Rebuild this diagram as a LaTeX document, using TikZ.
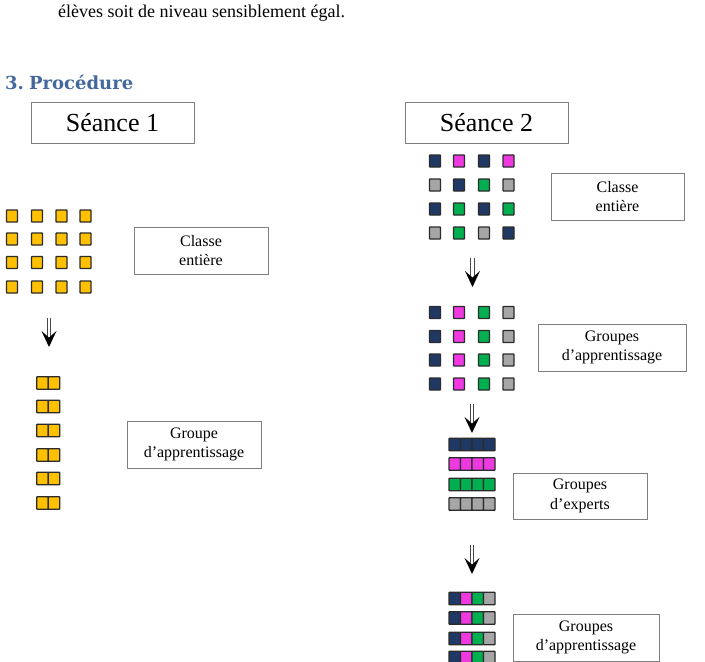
\documentclass[tikz,border=0pt]{standalone}
\usepackage{fontspec}
\setmainfont{LiberationSerif}[Extension=.ttf, UprightFont=*-Regular, BoldFont=*-Bold, ItalicFont=*-Italic, BoldItalicFont=*-BoldItalic]
\newfontfamily\headfont{DejaVu Serif}[WordSpace=0.5]
\usetikzlibrary{calc}
\definecolor{cyel}{HTML}{FFC000}
\definecolor{cnav}{HTML}{1F3864}
\definecolor{cmag}{HTML}{EE38E0}
\definecolor{cgrn}{HTML}{00B050}
\definecolor{cgry}{HTML}{A6A6A6}
\definecolor{chead}{HTML}{44689E}
\definecolor{cedge}{HTML}{2B2B2B}
\definecolor{cbox}{HTML}{7F7F7F}
\tikzset{
  x=1pt, y=-1pt,
  sqr/.style={draw=cedge, line width=1.3pt, rounded corners=0.6pt},
  lbl/.style={draw=cbox, line width=0.9pt, minimum width=134pt, minimum height=47pt,
    inner sep=0pt, align=center, font=\fontsize{16}{19.5}\selectfont},
  seance/.style={draw=cbox, line width=0.9pt, minimum width=163pt, minimum height=41pt,
    inner sep=0pt, font=\fontsize{26}{30}\selectfont},
  pics/dnarrow/.style={code={
    \draw[draw=gray!55!black, line width=0.9pt] (-1.7,0) -- (-1.7,19) (1.7,0) -- (1.7,19);
    \fill[black] (0,29) -- (-7.5,13) -- (0,19.5) -- (7.5,13) -- cycle;
  }}
}
\newcommand{\sq}[3]{\fill[#3,sqr] ({#1-5.5},{#2-6}) rectangle ({#1+5.5},{#2+6});}
\newcommand{\cell}[3]{\fill[#3,sqr] ({#1-5.75},{#2-6.25}) rectangle ({#1+5.75},{#2+6.25});}
\begin{document}
\begin{tikzpicture}
\useasboundingbox (0,0) rectangle (705,662);
% header text
\node[anchor=base west, inner sep=0pt, font=\fontsize{18}{21}\selectfont] (body) at (58,17)
  {élèves soit de niveau sensiblement égal.};
\node[anchor=base west, inner sep=0pt, font=\headfont\bfseries\fontsize{18}{21}\selectfont, text=chead] (head) at (5,89)
  {3. Procédure};
% seance boxes
\node[seance] (s1) at (112.5,122.5) {Séance 1};
\node[seance] (s2) at (486.5,122.5) {Séance 2};
% labels
\node[lbl] (l1) at (201,250.5) {Classe\\entière};
\node[lbl] (l2) at (194,444.5) {Groupe\\d’apprentissage};
\node[lbl, minimum width=133pt] (r1) at (617.5,196.5) {Classe\\entière};
\node[lbl, minimum width=148pt] (r2) at (612,347.5) {Groupes\\d’apprentissage};
\node[lbl, minimum height=46pt] (r3) at (580,496) {Groupes\\d’experts};
\node[lbl, minimum width=146pt] (r4) at (586,637.5) {Groupes\\d’apprentissage};
% Seance 1: 4x4 yellow grid
\foreach \x in {12,37,61.5,85.5}
  \foreach \y in {216,239,262.5,287}
    {\sq{\x}{\y}{cyel}}
% arrow 1
\pic at (49,318) {dnarrow};
% pairs
\foreach \y in {383,406.5,430.5,455,478.5,503}
  {\cell{42.5}{\y}{cyel}\cell{54}{\y}{cyel}}
% Seance 2 grid 1
\foreach \c [count=\i] in {cnav,cmag,cnav,cmag}
  {\pgfmathsetmacro{\xx}{{435,459,484,508.5}[\i-1]}\sq{\xx}{161}{\c}}
\foreach \c [count=\i] in {cgry,cnav,cgrn,cgry}
  {\pgfmathsetmacro{\xx}{{435,459,484,508.5}[\i-1]}\sq{\xx}{185}{\c}}
\foreach \c [count=\i] in {cnav,cgrn,cnav,cgrn}
  {\pgfmathsetmacro{\xx}{{435,459,484,508.5}[\i-1]}\sq{\xx}{209}{\c}}
\foreach \c [count=\i] in {cgry,cgrn,cgry,cnav}
  {\pgfmathsetmacro{\xx}{{435,459,484,508.5}[\i-1]}\sq{\xx}{233}{\c}}
% arrow 2
\pic at (472.5,258) {dnarrow};
% grid 2
\foreach \y in {312.5,336.5,360,384}
  {\sq{435}{\y}{cnav}\sq{459}{\y}{cmag}\sq{484}{\y}{cgrn}\sq{508.5}{\y}{cgry}}
% arrow 3
\pic at (472,404) {dnarrow};
% expert strips
\foreach \y/\c in {444.5/cnav,464/cmag,484.5/cgrn,504/cgry}
  {\foreach \x in {454.75,466.25,477.75,489.25} {\cell{\x}{\y}{\c}}}
% arrow 4
\pic at (472,545) {dnarrow};
% mixed strips
\foreach \y in {598.5,618,638.5,657.5}
  {\cell{454.75}{\y}{cnav}\cell{466.25}{\y}{cmag}\cell{477.75}{\y}{cgrn}\cell{489.25}{\y}{cgry}}
\end{tikzpicture}
\end{document}
